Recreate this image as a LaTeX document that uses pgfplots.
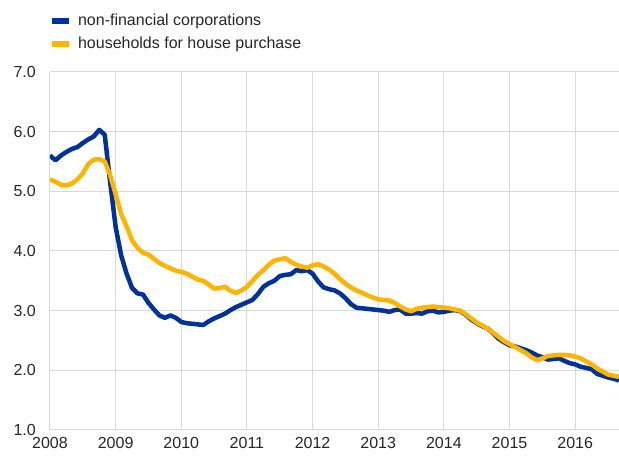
\documentclass[border=0pt]{standalone}
\usepackage{pgfplots}
\usepackage{pgfplotstable}
\pgfplotsset{compat=1.18}
\usepackage{fontspec}
\setmainfont{Liberation Sans}
\definecolor{ecbblue}{HTML}{003299}
\definecolor{ecbyellow}{HTML}{FFB400}
\definecolor{gridgray}{HTML}{D9D9D9}
\definecolor{txt}{HTML}{262626}

\pgfplotstableread{
m nfc hh
0 5.60 5.20
1 5.52 5.16
2 5.60 5.11
3 5.66 5.10
4 5.71 5.13
5 5.74 5.20
6 5.81 5.30
7 5.87 5.46
8 5.92 5.53
9 6.03 5.54
10 5.95 5.50
11 5.15 5.27
12 4.40 4.95
13 3.93 4.62
14 3.62 4.41
15 3.38 4.18
16 3.29 4.05
17 3.27 3.97
18 3.13 3.94
19 3.02 3.87
20 2.92 3.80
21 2.88 3.75
22 2.92 3.71
23 2.88 3.67
24 2.81 3.65
25 2.79 3.62
26 2.78 3.57
27 2.77 3.52
28 2.76 3.50
29 2.82 3.44
30 2.87 3.37
31 2.91 3.38
32 2.95 3.40
33 3.01 3.33
34 3.06 3.30
35 3.10 3.34
36 3.14 3.40
37 3.18 3.50
38 3.28 3.60
39 3.40 3.68
40 3.46 3.77
41 3.50 3.84
42 3.58 3.86
43 3.60 3.88
44 3.61 3.82
45 3.68 3.77
46 3.66 3.74
47 3.68 3.72
48 3.62 3.76
49 3.49 3.78
50 3.39 3.74
51 3.36 3.69
52 3.34 3.62
53 3.29 3.53
54 3.21 3.45
55 3.11 3.39
56 3.05 3.34
57 3.04 3.30
58 3.03 3.26
59 3.02 3.22
60 3.01 3.19
61 3.00 3.18
62 2.98 3.17
63 3.01 3.13
64 3.02 3.07
65 2.95 3.02
66 2.95 2.99
67 2.96 3.03
68 2.95 3.05
69 2.99 3.06
70 3.00 3.07
71 2.97 3.06
72 2.98 3.05
73 3.00 3.04
74 3.01 3.02
75 2.99 3.00
76 2.93 2.94
77 2.85 2.87
78 2.79 2.80
79 2.74 2.75
80 2.70 2.70
81 2.62 2.63
82 2.53 2.56
83 2.47 2.49
84 2.42 2.44
85 2.40 2.39
86 2.37 2.34
87 2.34 2.29
88 2.30 2.22
89 2.25 2.17
90 2.22 2.20
91 2.18 2.24
92 2.19 2.25
93 2.20 2.26
94 2.16 2.26
95 2.12 2.25
96 2.10 2.23
97 2.06 2.20
98 2.04 2.15
99 2.02 2.10
100 1.94 2.03
101 1.91 1.98
102 1.88 1.93
103 1.86 1.91
104 1.83 1.89
}\datatable

\begin{document}
\begin{tikzpicture}
\path[use as bounding box] (-50pt,-27pt) rectangle (569pt,430pt);
\begin{axis}[
  at={(0,0)}, anchor=south west,
  scale only axis,
  width=569pt, height=358pt,
  xmin=2008, xmax=2016.6667,
  ymin=1, ymax=7,
  xtick={2008,2009,...,2016},
  ytick={1,2,...,7},
  axis line style={draw=none},
  major tick length=0pt,
  xmajorgrids, ymajorgrids,
  grid style={gridgray, line width=1pt},
  /pgf/number format/assume math mode=true,
  tick label style={font=\fontsize{16}{19}\selectfont, text=txt},
  x tick label style={/pgf/number format/1000 sep={}, inner sep=0pt, anchor=north, yshift=-7pt},
  y tick label style={/pgf/number format/fixed, /pgf/number format/fixed zerofill, /pgf/number format/precision=1, inner sep=0pt, anchor=east, xshift=-14pt},
  legend style={at={(axis description cs:-0.002,1.168)}, anchor=north west, draw=none, fill=none,
    font=\fontsize{16}{19}\selectfont, text=txt, inner sep=0pt, row sep=6pt,
    cells={anchor=west}},
  legend cell align=left,
  legend image code/.code={\draw[#1, line width=6pt, line cap=butt] (0pt,0pt) -- (17pt,0pt);},
  clip=true,
]
\addplot[ecbblue, line width=4.5pt, line join=round] table[x expr=2008+\thisrow{m}/12, y=nfc] {\datatable};
\addlegendentry{\hspace{4pt}non-financial corporations}
\addplot[ecbyellow, line width=4.5pt, line join=round] table[x expr=2008+\thisrow{m}/12, y=hh] {\datatable};
\addlegendentry{\hspace{4pt}households for house purchase}
\end{axis}
\end{tikzpicture}
\end{document}
